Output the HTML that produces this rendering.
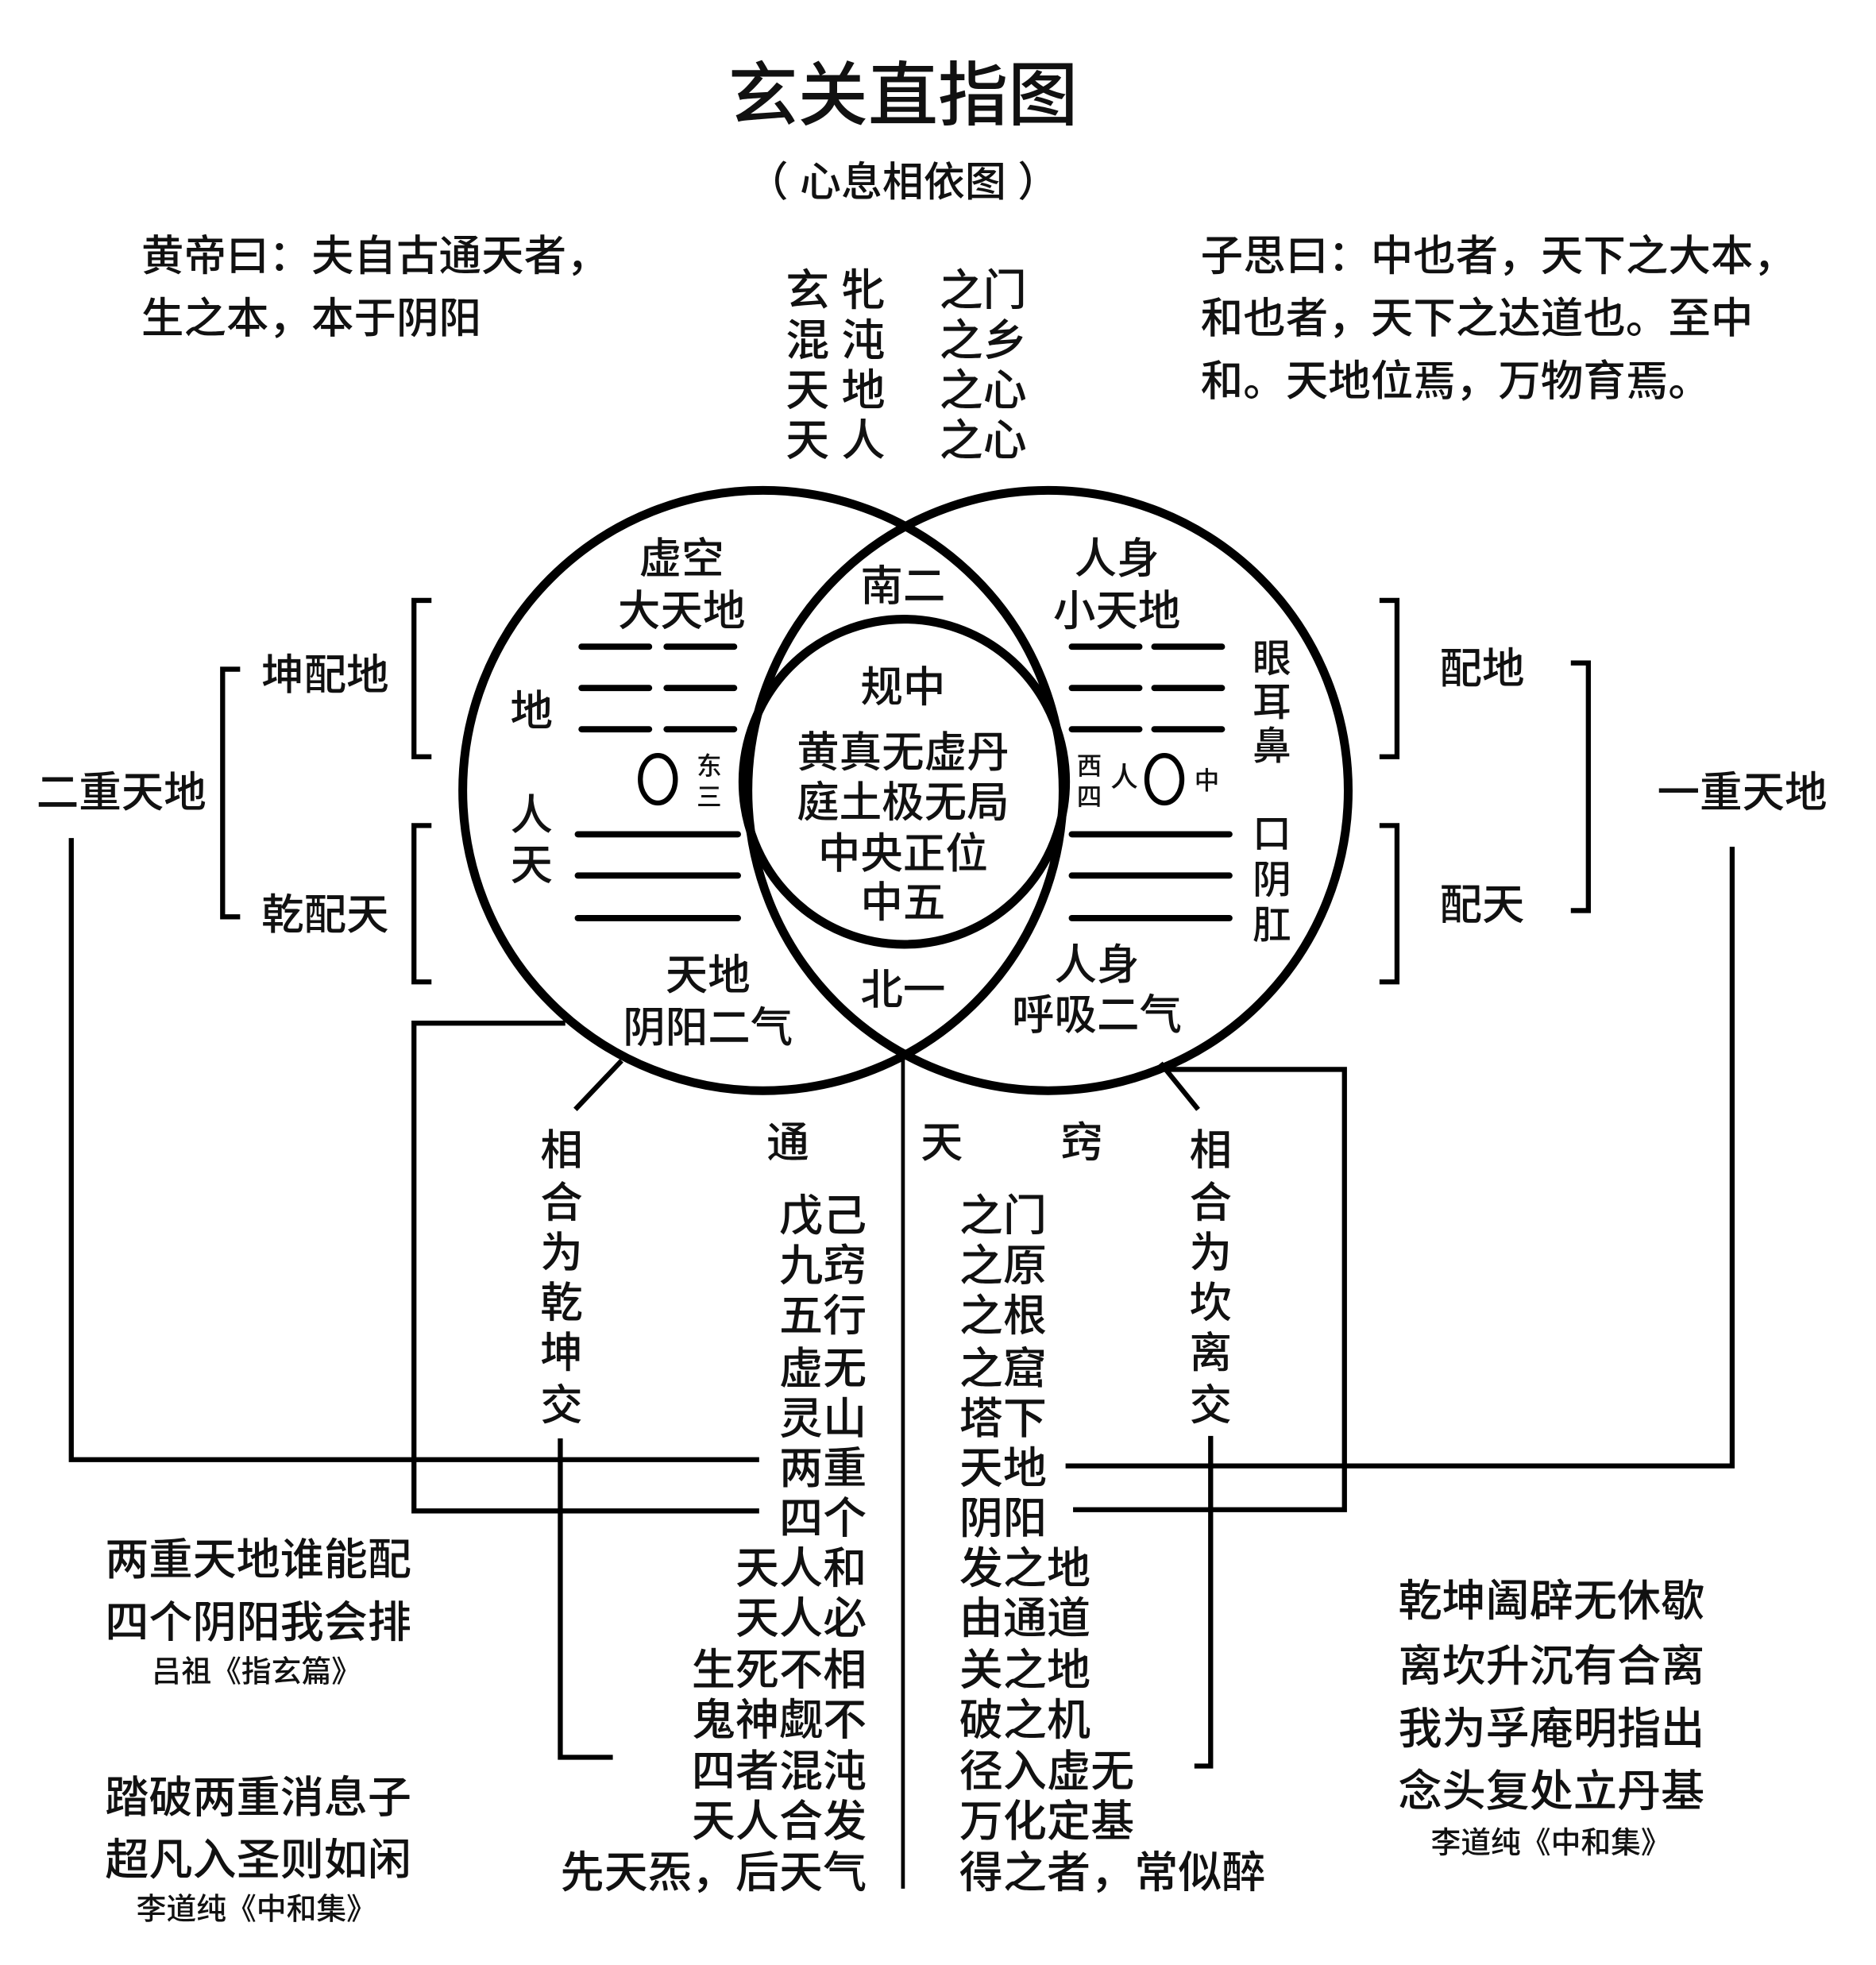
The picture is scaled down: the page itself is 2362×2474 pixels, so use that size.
<!DOCTYPE html>
<html><head><meta charset="utf-8"><style>
html,body{margin:0;padding:0;background:#fff;}
svg{display:block;}
text{font-family:"Liberation Sans","Noto Sans CJK SC",sans-serif;fill:#111;dominant-baseline:central;font-weight:500;}
</style></head><body>
<svg width="2362" height="2474" viewBox="0 0 1500 1571" xmlns="http://www.w3.org/2000/svg">
<rect width="1500" height="1571" fill="#fff"/>
<g font-size="34" text-anchor="middle">
<text x="722" y="76" font-size="56" font-weight="bold">玄关直指图</text>
<text x="722" y="146" font-size="33">（ 心息相依图 ）</text>
</g>
<g transform="translate(0,2)">
<g font-size="34" text-anchor="start">
<text x="113" y="203">黄帝曰：夫自古通天者，</text>
<text x="113" y="253">生之本，本于阴阳</text>
<text x="960" y="203">子思曰：中也者，天下之大本，</text>
<text x="960" y="253">和也者，天下之达道也。至中</text>
<text x="960" y="303">和。天地位焉，万物育焉。</text>
</g>
<g font-size="35" text-anchor="middle">
<text x="668" y="230">玄 牝</text><text x="786" y="230">之门</text>
<text x="668" y="270">混 沌</text><text x="786" y="270">之乡</text>
<text x="668" y="310">天 地</text><text x="786" y="310">之心</text>
<text x="668" y="350">天 人</text><text x="786" y="350">之心</text>
</g>
</g>
<g fill="none" stroke="#000">
<circle cx="610" cy="632" r="240" stroke-width="7"/>
<circle cx="838" cy="632" r="240" stroke-width="7"/>
<ellipse cx="723" cy="625" rx="129" ry="130" stroke-width="7"/>
</g>
<g stroke="#000" stroke-width="5" stroke-linecap="round">
<line x1="465" y1="517" x2="519" y2="517"/><line x1="533" y1="517" x2="587" y2="517"/>
<line x1="465" y1="550" x2="519" y2="550"/><line x1="533" y1="550" x2="587" y2="550"/>
<line x1="465" y1="583" x2="519" y2="583"/><line x1="533" y1="583" x2="587" y2="583"/>
<line x1="462" y1="667" x2="590" y2="667"/><line x1="462" y1="700" x2="590" y2="700"/><line x1="462" y1="734" x2="590" y2="734"/>
<line x1="857" y1="517" x2="911" y2="517"/><line x1="923" y1="517" x2="977" y2="517"/>
<line x1="857" y1="550" x2="911" y2="550"/><line x1="923" y1="550" x2="977" y2="550"/>
<line x1="857" y1="583" x2="911" y2="583"/><line x1="923" y1="583" x2="977" y2="583"/>
<line x1="857" y1="667" x2="983" y2="667"/><line x1="857" y1="700" x2="983" y2="700"/><line x1="857" y1="734" x2="983" y2="734"/>
</g>
<ellipse cx="526" cy="623" rx="14" ry="19" fill="none" stroke="#000" stroke-width="4"/>
<ellipse cx="931" cy="623" rx="14" ry="19" fill="none" stroke="#000" stroke-width="4"/>
<g transform="translate(0,2)">
<g font-size="34" text-anchor="middle">
<text x="545" y="445">虚空</text><text x="545" y="487">大天地</text>
<text x="722" y="467">南二</text>
<text x="893" y="445">人身</text><text x="893" y="487">小天地</text>
<text x="722" y="548">规中</text>
<text x="722" y="600">黄真无虚丹</text>
<text x="722" y="640">庭土极无局</text>
<text x="722" y="681">中央正位</text>
<text x="722" y="720">中五</text>
<text x="425" y="567">地</text><text x="425" y="650">人</text><text x="425" y="690">天</text>
<text x="566" y="778">天地</text><text x="566" y="820">阴阳二气</text>
<text x="722" y="790">北一</text>
<text x="877" y="770">人身</text><text x="877" y="810">呼吸二气</text>
</g>
<g font-size="20" text-anchor="middle">
<text x="567" y="610">东</text><text x="567" y="635">三</text>
<text x="871" y="610">西</text><text x="871" y="635">四</text>
<text x="965" y="622">中</text>
</g>
<text x="899" y="620" font-size="22" text-anchor="middle">人</text>
<g font-size="31" text-anchor="middle">
<text x="1017" y="525">眼</text><text x="1017" y="560">耳</text><text x="1017" y="595">鼻</text>
<text x="1017" y="665">口</text><text x="1017" y="702">阴</text><text x="1017" y="738">肛</text>
</g>
</g>
<g fill="none" stroke="#000" stroke-width="4">
<polyline points="345,480 331,480 331,605 345,605"/>
<polyline points="345,660 331,660 331,785 345,785"/>
<polyline points="1103,480 1117,480 1117,605 1103,605"/>
<polyline points="1103,660 1117,660 1117,785 1103,785"/>
<polyline points="192,535 178,535 178,733 192,733"/>
<polyline points="1256,530 1270,530 1270,728 1256,728"/>
<polyline points="57,670 57,1167 607,1167"/>
<polyline points="1385,677 1385,1172 852,1172"/>
<polyline points="452,818 331,818 331,1208 607,1208"/>
<polyline points="925,855 1075,855 1075,1207 858,1207"/>
<polyline points="448,1150 448,1405 490,1405"/>
<polyline points="968,1148 968,1412 955,1412"/>
<line x1="497" y1="848" x2="460" y2="887"/>
<line x1="928" y1="850" x2="958" y2="887"/>
</g>
<line x1="722" y1="842" x2="722" y2="1510" stroke="#000" stroke-width="3"/>
<g transform="translate(0,2)">
<g font-size="34" text-anchor="middle">
<text x="260" y="538">坤配地</text><text x="260" y="730">乾配天</text>
<text x="97" y="632">二重天地</text>
<text x="1185" y="533">配地</text><text x="1185" y="722">配天</text>
<text x="1393" y="632">一重天地</text>
<text x="630" y="912">通</text><text x="753" y="912">天</text><text x="865" y="912">窍</text>
</g>
<g font-size="34" text-anchor="middle">
<text x="449" y="918">相</text><text x="449" y="960">合</text><text x="449" y="1000">为</text><text x="449" y="1040">乾</text><text x="449" y="1080">坤</text><text x="449" y="1122">交</text>
<text x="968" y="918">相</text><text x="968" y="960">合</text><text x="968" y="1000">为</text><text x="968" y="1040">坎</text><text x="968" y="1080">离</text><text x="968" y="1122">交</text>
</g>
<g font-size="35" text-anchor="end">
<text x="693" y="970">戊己</text><text x="693" y="1010">九窍</text><text x="693" y="1050">五行</text><text x="693" y="1092">虚无</text><text x="693" y="1132">灵山</text><text x="693" y="1172">两重</text><text x="693" y="1212">四个</text><text x="693" y="1252">天人和</text><text x="693" y="1292">天人必</text><text x="693" y="1333">生死不相</text><text x="693" y="1373">鬼神觑不</text><text x="693" y="1414">四者混沌</text><text x="693" y="1454">天人合发</text><text x="693" y="1495">先天炁，后天气</text>
</g>
<g font-size="35" text-anchor="start">
<text x="767" y="970">之门</text><text x="767" y="1010">之原</text><text x="767" y="1050">之根</text><text x="767" y="1092">之窟</text><text x="767" y="1132">塔下</text><text x="767" y="1172">天地</text><text x="767" y="1212">阴阳</text><text x="767" y="1252">发之地</text><text x="767" y="1292">由通道</text><text x="767" y="1333">关之地</text><text x="767" y="1373">破之机</text><text x="767" y="1414">径入虚无</text><text x="767" y="1454">万化定基</text><text x="767" y="1495">得之者，常似醉</text>
</g>
<g font-size="35" text-anchor="start">
<text x="84" y="1245">两重天地谁能配</text>
<text x="84" y="1295">四个阴阳我会排</text>
<text x="84" y="1435">踏破两重消息子</text>
<text x="84" y="1485">超凡入圣则如闲</text>
<text x="1118" y="1278">乾坤阖辟无休歇</text>
<text x="1118" y="1330">离坎升沉有合离</text>
<text x="1118" y="1380">我为孚庵明指出</text>
<text x="1118" y="1430">念头复处立丹基</text>
</g>
<g font-size="24" text-anchor="middle">
<text x="205" y="1335">吕祖《指玄篇》</text>
<text x="205" y="1525">李道纯《中和集》</text>
<text x="1240" y="1472">李道纯《中和集》</text>
</g>
</g>
</svg>
</body></html>
